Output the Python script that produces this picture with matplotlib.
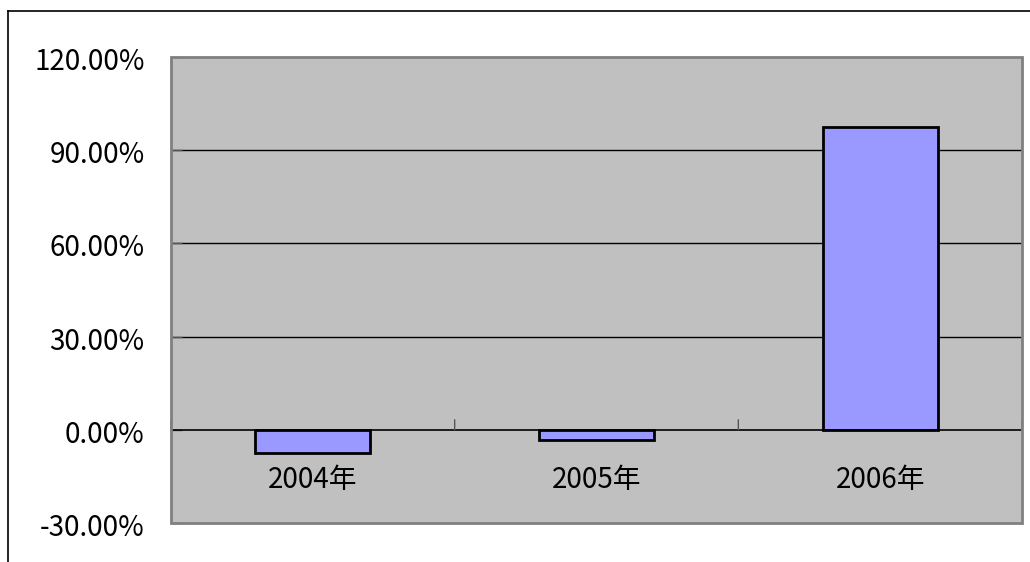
import matplotlib
matplotlib.use("Agg")
import matplotlib.pyplot as plt
from matplotlib.lines import Line2D
from matplotlib.patches import Rectangle
from matplotlib.transforms import ScaledTranslation
from matplotlib.ticker import FixedLocator

plt.rcParams['font.family'] = ['Noto Sans CJK SC', 'DejaVu Sans']

categories = ['2004年', '2005年', '2006年']
values = [-7.4, -3.2, 97.6]
y_ticks = [-30, 0, 30, 60, 90, 120]
y_tick_labels = ['-30.00%', '0.00%', '30.00%', '60.00%', '90.00%', '120.00%']

W, H = 1030, 562
fig = plt.figure(figsize=(W / 100, H / 100), dpi=100)
ax = fig.add_axes([171 / W, (H - 523) / H, (1022 - 171) / W, (523 - 57) / H])
ax.set_facecolor('#C0C0C0')

x = list(range(len(categories)))
ax.bar(x, values, width=0.405, color='#9999FF', edgecolor='black', linewidth=2, zorder=3)

ax.set_xlim(-0.5, 2.5)
ax.set_ylim(-30, 120)

# gridlines
for yv in y_ticks[2:-1]:
    ax.axhline(yv, color='black', linewidth=1, zorder=1)
ax.axhline(0, color='black', linewidth=1.2, zorder=4)

# spines: gray plot-area border
for s in ax.spines.values():
    s.set_visible(False)
ax.add_patch(Rectangle((0, 0), 1, 1, transform=ax.transAxes, fill=False,
                       edgecolor='#808080', linewidth=2, zorder=5, clip_on=False))

# y ticks
ax.set_yticks(y_ticks)
ax.set_yticklabels(y_tick_labels)
ax.tick_params(axis='y', direction='in', length=8, width=1, color='#555555',
               pad=19, labelsize=20, labelcolor='black')
off = ScaledTranslation(0, -13 / 100, fig.dpi_scale_trans)
for lab in ax.get_yticklabels():
    lab.set_verticalalignment('baseline')
    lab.set_transform(lab.get_transform() + off)

# x ticks: hide default, draw boundary tick marks at zero line
ax.set_xticks([])
for b in [-0.5, 0.5, 1.5, 2.5]:
    ax.annotate('', xy=(b, 0), xytext=(0, 10), textcoords='offset pixels',
                arrowprops=dict(arrowstyle='-', color='#555555', lw=1,
                                shrinkA=0, shrinkB=0), zorder=4)
for xi, c in zip(x, categories):
    ax.annotate(c, xy=(xi, 0), xytext=(0, -58), textcoords='offset pixels',
                ha='center', va='baseline', fontsize=20, color='black', zorder=6)

# figure border (top and left)
fig.add_artist(Line2D([8 / W, 8 / W], [0, 1 - 11 / H], transform=fig.transFigure,
                      color='black', linewidth=1.2))
fig.add_artist(Line2D([8 / W, 1], [1 - 11 / H, 1 - 11 / H], transform=fig.transFigure,
                      color='black', linewidth=1.2))

fig.savefig('out.png', dpi=100)
